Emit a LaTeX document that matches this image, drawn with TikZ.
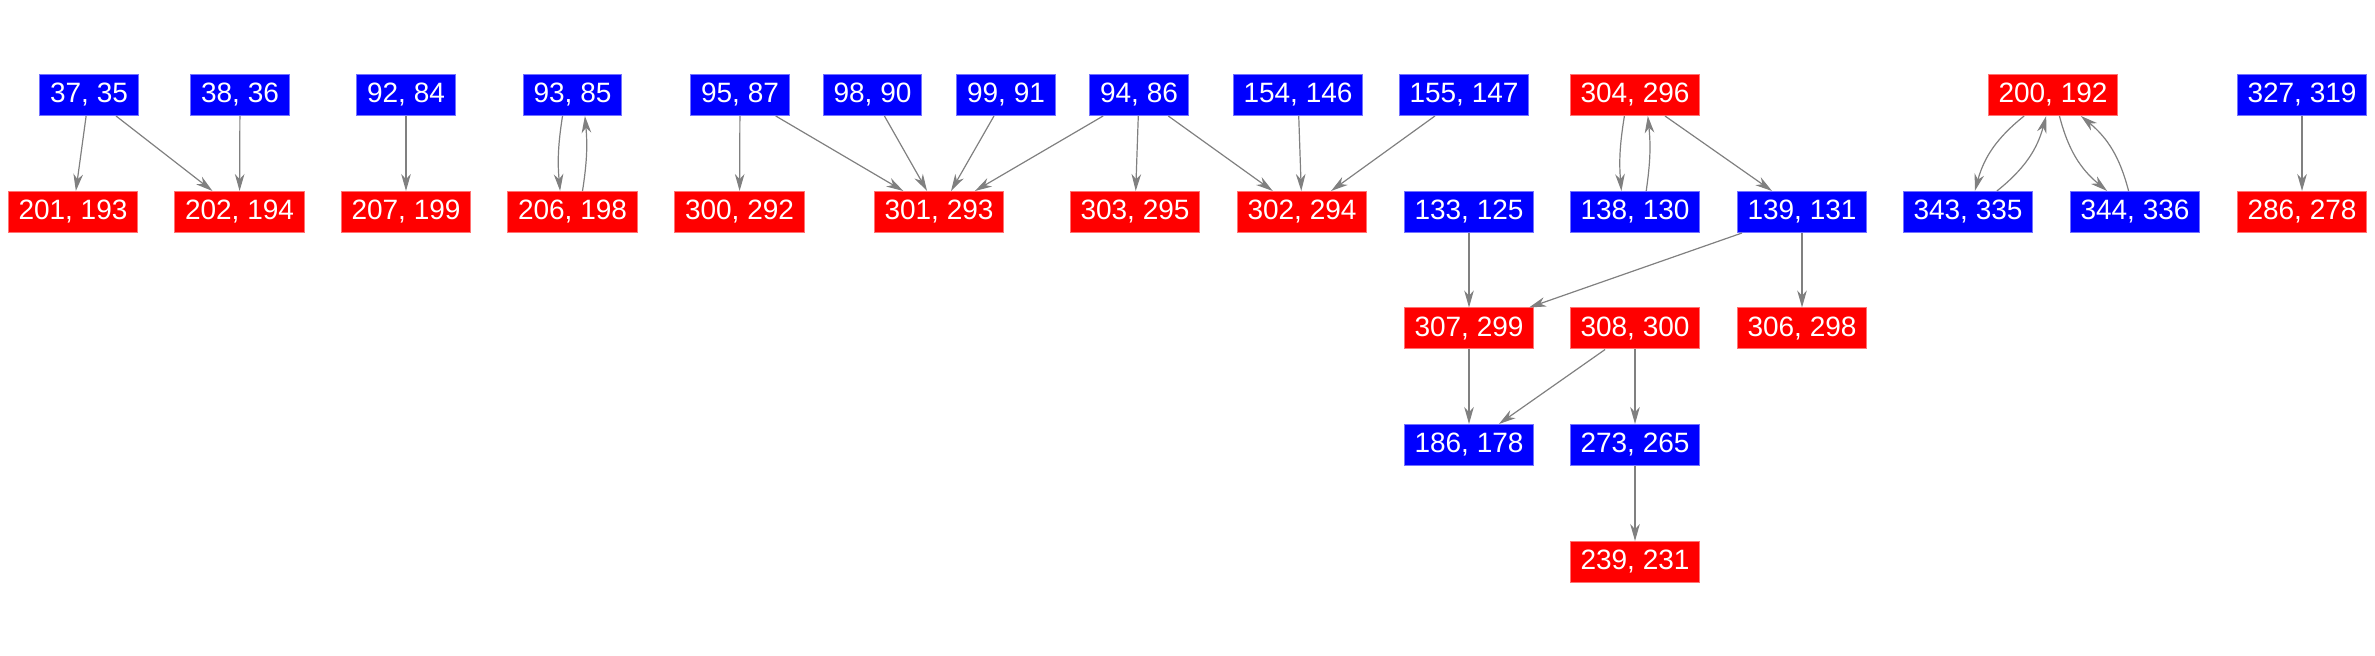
\documentclass[tikz,border=0pt]{standalone}
\usepackage{fontspec}
\setmainfont{Liberation Sans}
\usepackage{xcolor}
\definecolor{vertBlue}  {HTML}{0000FF}
\definecolor{vertRed}   {HTML}{FF0000}
\definecolor{edgeGray}  {HTML}{808080}
\usetikzlibrary{arrows.meta}
\tikzset{
    vertex/.style={rectangle, minimum height=20.5pt, inner ysep=0pt,
                   inner xsep=5.1pt, text height=0.8em, text depth=0pt,
                   font=\fontsize{14}{16}\selectfont, text=white, line width=0.5pt},
    vblue/.style={vertex, fill=vertBlue, draw=vertBlue!55!white},
    vred/.style={vertex, fill=vertRed, draw=vertRed!55!white},
    edge/.style={->, >={Stealth[length=8.5pt, width=4.8pt, inset=2.6pt]},
                 line width=0.6pt, edgeGray},
    backedge/.style={edge, bend right=7},
    slantedge/.style={edge, bend right=18},
}

\begin{document}
\begin{tikzpicture}[x=0.5pt, y=-0.5pt]
    \useasboundingbox (0,0) rectangle (2375,656);
    % top row
    \node[vblue] (v37)  at (89,95)   {37, 35};
    \node[vblue] (v38)  at (240,95)  {38, 36};
    \node[vblue] (v92)  at (406,95)  {92, 84};
    \node[vblue] (v93)  at (572.5,95) {93, 85};
    \node[vblue] (v95)  at (740,95)  {95, 87};
    \node[vblue] (v98)  at (872.5,95) {98, 90};
    \node[vblue] (v99)  at (1006,95) {99, 91};
    \node[vblue] (v94)  at (1139,95) {94, 86};
    \node[vblue] (v154) at (1298,95) {154, 146};
    \node[vblue] (v155) at (1464,95) {155, 147};
    \node[vred]  (v304) at (1635,95) {304, 296};
    \node[vred]  (v200) at (2053,95) {200, 192};
    \node[vblue] (v327) at (2302,95) {327, 319};
    % second row
    \node[vred]  (v201) at (73,212)    {201, 193};
    \node[vred]  (v202) at (239.5,212) {202, 194};
    \node[vred]  (v207) at (406,212)   {207, 199};
    \node[vred]  (v206) at (572.5,212) {206, 198};
    \node[vred]  (v300) at (739.5,212) {300, 292};
    \node[vred]  (v301) at (939,212)   {301, 293};
    \node[vred]  (v303) at (1135,212)  {303, 295};
    \node[vred]  (v302) at (1302,212)  {302, 294};
    \node[vblue] (v133) at (1469,212)  {133, 125};
    \node[vblue] (v138) at (1635,212)  {138, 130};
    \node[vblue] (v139) at (1802,212)  {139, 131};
    \node[vblue] (v343) at (1968,212)  {343, 335};
    \node[vblue] (v344) at (2135,212)  {344, 336};
    \node[vred]  (v286) at (2302,212)  {286, 278};
    % lower rows
    \node[vred]  (v307) at (1469,328.5) {307, 299};
    \node[vred]  (v308) at (1635,328.5) {308, 300};
    \node[vred]  (v306) at (1802,328.5) {306, 298};
    \node[vblue] (v186) at (1469,445)   {186, 178};
    \node[vblue] (v273) at (1635,445)   {273, 265};
    \node[vred]  (v239) at (1635,562)   {239, 231};
    % one-way edges
    \draw[edge] (v37) -- (v201);
    \draw[edge] (v37) -- (v202);
    \draw[edge] (v38) -- (v202);
    \draw[edge] (v92) -- (v207);
    \draw[edge] (v95) -- (v300);
    \draw[edge] (v95) -- (v301);
    \draw[edge] (v98) -- (v301);
    \draw[edge] (v99) -- (v301);
    \draw[edge] (v94) -- (v301);
    \draw[edge] (v94) -- (v303);
    \draw[edge] (v94) -- (v302);
    \draw[edge] (v154) -- (v302);
    \draw[edge] (v155) -- (v302);
    \draw[edge] (v304) -- (v139);
    \draw[edge] (v133) -- (v307);
    \draw[edge] (v139) -- (v307);
    \draw[edge] (v139) -- (v306);
    \draw[edge] (v307) -- (v186);
    \draw[edge] (v308) -- (v186);
    \draw[edge] (v308) -- (v273);
    \draw[edge] (v273) -- (v239);
    \draw[edge] (v327) -- (v286);
    % two-way pairs (bent)
    \draw[backedge] ([xshift=-5pt]v93.south) to ([xshift=-6.2pt]v206.north);
    \draw[backedge] ([xshift=5pt]v206.north) to ([xshift=6.2pt]v93.south);
    \draw[backedge] ([xshift=-5.3pt]v304.south) to ([xshift=-6.8pt]v138.north);
    \draw[backedge] ([xshift=5.6pt]v138.north) to ([xshift=6.4pt]v304.south);
    \draw[slantedge] (v200) to (v343);
    \draw[slantedge] (v343) to (v200);
    \draw[slantedge] (v200) to (v344);
    \draw[slantedge] (v344) to (v200);
\end{tikzpicture}
\end{document}
